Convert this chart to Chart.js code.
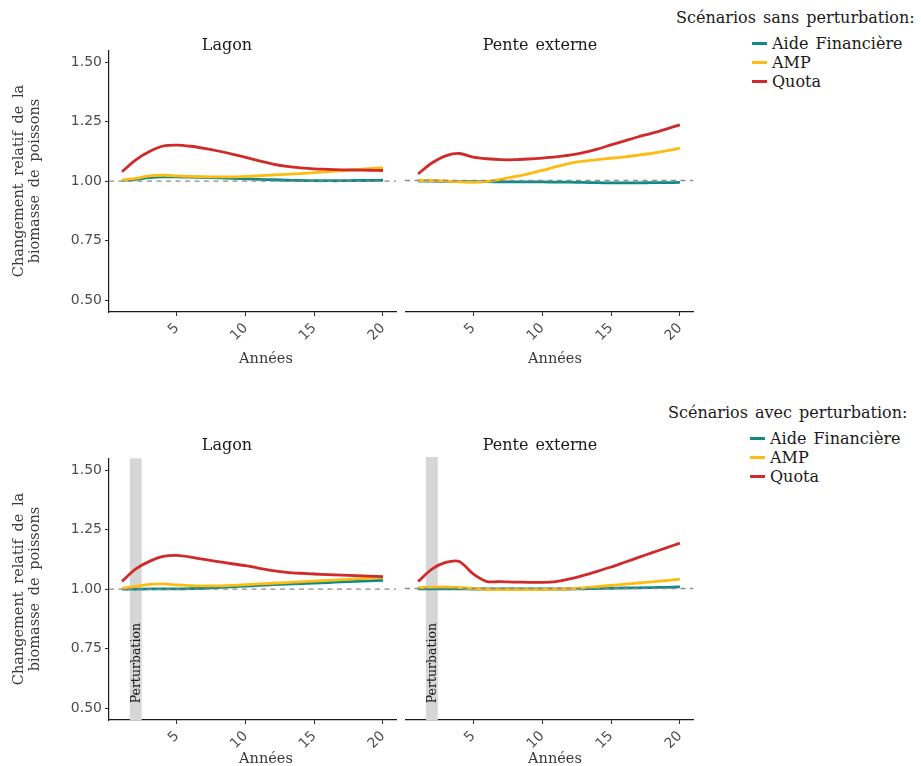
<!DOCTYPE html>
<html lang="fr">
<head>
<meta charset="utf-8">
<title>Changement relatif de la biomasse de poissons</title>
<script src="https://cdn.jsdelivr.net/npm/chart.js@4.4.1/dist/chart.umd.min.js"></script>
<style>
  html, body { margin: 0; padding: 0; background: #fff; }
  body { width: 921px; height: 766px; position: relative; overflow: hidden; font-family: "DejaVu Serif", serif; }
  .box { position: absolute; }
  .txt { position: absolute; white-space: nowrap; line-height: 1; color: #1a1a1a; }
  .ptitle { font-size: 16px; transform: translateX(-50%); }
  .xtitle { font-size: 14.5px; color: #3a3a3a; transform: translateX(-50%); }
  .ytitle { position: absolute; width: 300px; height: 34px; line-height: 16px; font-size: 14.5px;
            color: #3a3a3a; text-align: center; transform: rotate(-90deg); word-spacing: 3px; }
  .legtitle { font-size: 16px; }
  .legitem { font-size: 16px; }
  .key { position: absolute; width: 15px; height: 3px; }
</style>
</head>
<body>
<div id="root"></div>
<script>
// --- data ---
const YEARS = [1, 2, 3, 4, 5, 6, 7, 8, 9, 10, 11, 12, 13, 14, 15, 16, 17, 18, 19, 20];
const X_TICKS = [5, 10, 15, 20];
const Y_TICKS = [0.5, 0.75, 1.0, 1.25, 1.5];
const SERIES_NAMES = ['Aide Financière', 'AMP', 'Quota'];
const SERIES_COLORS = ['#0E8A89', '#FDBC0F', '#D02A2A'];
const REF_VALUE = 1.0;
const PERTURBATION_SPAN = [1.57, 2.43];

// sans perturbation
const LAGON_SANS_AIDE  = [1.003, 1.008, 1.015, 1.018, 1.018, 1.017, 1.016, 1.014, 1.012, 1.010, 1.008, 1.006, 1.004, 1.003, 1.002, 1.002, 1.002, 1.003, 1.003, 1.004];
const LAGON_SANS_AMP   = [1.005, 1.012, 1.022, 1.025, 1.022, 1.020, 1.019, 1.018, 1.018, 1.020, 1.023, 1.026, 1.029, 1.032, 1.036, 1.040, 1.044, 1.048, 1.053, 1.057];
const LAGON_SANS_QUOTA = [1.040, 1.090, 1.125, 1.148, 1.152, 1.147, 1.138, 1.127, 1.114, 1.100, 1.085, 1.072, 1.062, 1.056, 1.052, 1.050, 1.048, 1.047, 1.046, 1.045];
const PENTE_SANS_AIDE  = [0.998, 0.997, 0.996, 0.995, 0.995, 0.995, 0.994, 0.994, 0.994, 0.994, 0.993, 0.993, 0.992, 0.991, 0.990, 0.990, 0.990, 0.991, 0.991, 0.992];
const PENTE_SANS_AMP   = [1.000, 1.000, 0.998, 0.994, 0.992, 0.996, 1.005, 1.016, 1.028, 1.042, 1.058, 1.072, 1.081, 1.087, 1.093, 1.099, 1.106, 1.114, 1.124, 1.135];
const PENTE_SANS_QUOTA = [1.028, 1.073, 1.103, 1.113, 1.098, 1.091, 1.087, 1.087, 1.090, 1.094, 1.099, 1.106, 1.117, 1.131, 1.149, 1.166, 1.183, 1.198, 1.215, 1.233];

// avec perturbation
const LAGON_AVEC_AIDE  = [1.000, 1.000, 1.001, 1.001, 1.001, 1.002, 1.004, 1.007, 1.010, 1.013, 1.016, 1.019, 1.021, 1.024, 1.026, 1.028, 1.031, 1.033, 1.035, 1.037];
const LAGON_AVEC_AMP   = [1.003, 1.012, 1.020, 1.022, 1.018, 1.015, 1.014, 1.014, 1.016, 1.019, 1.022, 1.025, 1.028, 1.031, 1.034, 1.037, 1.040, 1.043, 1.046, 1.049];
const LAGON_AVEC_QUOTA = [1.033, 1.085, 1.117, 1.138, 1.142, 1.135, 1.125, 1.116, 1.107, 1.099, 1.088, 1.078, 1.071, 1.067, 1.064, 1.061, 1.059, 1.057, 1.055, 1.053];
const PENTE_AVEC_AIDE  = [0.999, 0.999, 0.999, 0.999, 0.998, 0.998, 0.998, 0.998, 0.998, 0.998, 0.998, 0.998, 0.999, 1.000, 1.001, 1.002, 1.003, 1.004, 1.005, 1.007];
const PENTE_AVEC_AMP   = [1.004, 1.006, 1.007, 1.004, 1.000, 0.996, 0.995, 0.995, 0.995, 0.996, 0.997, 0.999, 1.003, 1.008, 1.013, 1.018, 1.023, 1.028, 1.033, 1.039];
const PENTE_AVEC_QUOTA = [1.029, 1.081, 1.109, 1.113, 1.061, 1.029, 1.029, 1.027, 1.026, 1.026, 1.029, 1.040, 1.055, 1.072, 1.090, 1.110, 1.130, 1.150, 1.170, 1.190];

const TEXT = {
  lagon: 'Lagon', pente: 'Pente externe', annees: 'Années',
  ylab1: 'Changement relatif de la', ylab2: 'biomasse de poissons',
  legSans: 'Scénarios sans perturbation:', legAvec: 'Scénarios avec perturbation:',
  perturbation: 'Perturbation'
};

const root = document.getElementById('root');

function addText(cls, text, left, top, extra){
  const d = document.createElement('div');
  d.className = 'txt ' + cls;
  d.textContent = text;
  d.style.left = left + 'px';
  d.style.top = top + 'px';
  if(extra) Object.assign(d.style, extra);
  root.appendChild(d);
  return d;
}

// dashed reference line at y = 1, drawn above the series
const refLinePlugin = {
  id: 'refLine',
  afterDatasetsDraw(chart){
    const { ctx, chartArea, scales } = chart;
    const y = scales.y.getPixelForValue(REF_VALUE);
    ctx.save();
    ctx.strokeStyle = '#8a8a8a';
    ctx.lineWidth = 1.3;
    ctx.setLineDash([5, 4.5]);
    ctx.beginPath();
    ctx.moveTo(chartArea.left, y);
    ctx.lineTo(chartArea.right, y);
    ctx.stroke();
    ctx.restore();
  }
};

// grey band for the perturbation year
const bandPlugin = {
  id: 'band',
  beforeDatasetsDraw(chart, args, opts){
    if(!opts.show) return;
    const { ctx, chartArea, scales } = chart;
    const x0 = scales.x.getPixelForValue(PERTURBATION_SPAN[0]);
    const x1 = scales.x.getPixelForValue(PERTURBATION_SPAN[1]);
    ctx.save();
    ctx.fillStyle = '#D6D6D6';
    ctx.fillRect(x0, chartArea.top, x1 - x0, chartArea.bottom - chartArea.top);
    // label
    ctx.translate((x0 + x1) / 2 + 0.5, scales.y.getPixelForValue(0.52));
    ctx.rotate(-Math.PI / 2);
    ctx.fillStyle = '#1a1a1a';
    ctx.font = '12.5px "DejaVu Serif"';
    ctx.textAlign = 'left';
    ctx.textBaseline = 'middle';
    ctx.fillText(TEXT.perturbation, 0, 0);
    ctx.restore();
  }
};

function makePanel(left, top, width, series, showY, showBand){
  const box = document.createElement('div');
  box.className = 'box';
  box.style.left = left + 'px';
  box.style.top = top + 'px';
  box.style.width = width + 'px';
  box.style.height = '321px';
  const canvas = document.createElement('canvas');
  box.appendChild(canvas);
  root.appendChild(box);

  const axisGrid = { drawOnChartArea: false, drawTicks: true, tickLength: 4, color: '#333', tickColor: '#333', tickWidth: 1.1 };
  const axisBorder = { display: true, color: '#1a1a1a', width: 1.2 };
  const tickFont = { family: '"DejaVu Sans", sans-serif', size: 14 };

  return new Chart(canvas.getContext('2d'), {
    type: 'line',
    data: {
      datasets: series.map((vals, i) => ({
        label: SERIES_NAMES[i],
        data: YEARS.map((yr, k) => ({ x: yr, y: vals[k] })),
        borderColor: SERIES_COLORS[i],
        borderWidth: 2.8,
        pointRadius: 0,
        tension: 0.25,
        fill: false,
        order: 3 - i
      }))
    },
    options: {
      responsive: true,
      maintainAspectRatio: false,
      animation: false,
      layout: { padding: { top: 10, right: 4, left: 0, bottom: 0 } },
      plugins: { legend: { display: false }, tooltip: { enabled: false }, band: { show: showBand } },
      scales: {
        x: {
          type: 'linear', min: 0.05, max: 20.95,
          afterBuildTicks: s => { s.ticks = X_TICKS.map(v => ({ value: v })); },
          afterFit: s => { s.height = 48; },
          ticks: { minRotation: 45, maxRotation: 45, padding: 4, color: '#4d4d4d', font: tickFont, callback: v => String(v) },
          grid: axisGrid, border: axisBorder
        },
        y: {
          type: 'linear', min: 0.45, max: 1.55, display: showY,
          afterBuildTicks: s => { s.ticks = Y_TICKS.map(v => ({ value: v })); },
          afterFit: s => { s.width = showY ? 69 : 0; },
          ticks: { padding: 3, color: '#4d4d4d', font: tickFont, callback: v => Number(v).toFixed(2) },
          grid: axisGrid, border: axisBorder
        }
      }
    },
    plugins: [bandPlugin, refLinePlugin]
  });
}

// panels
makePanel(40, 39, 360, [LAGON_SANS_AIDE, LAGON_SANS_AMP, LAGON_SANS_QUOTA], true, false);
makePanel(405, 39, 292, [PENTE_SANS_AIDE, PENTE_SANS_AMP, PENTE_SANS_QUOTA], false, false);
makePanel(40, 447, 360, [LAGON_AVEC_AIDE, LAGON_AVEC_AMP, LAGON_AVEC_QUOTA], true, true);
makePanel(405, 447, 292, [PENTE_AVEC_AIDE, PENTE_AVEC_AMP, PENTE_AVEC_QUOTA], false, true);

// panel titles
[37, 437].forEach(t => {
  addText('ptitle', TEXT.lagon, 227, t);
  addText('ptitle', TEXT.pente, 540, t, { wordSpacing: '2px' });
});

// x axis titles
addText('xtitle', TEXT.annees, 266, 351);
addText('xtitle', TEXT.annees, 555, 351);
addText('xtitle', TEXT.annees, 266, 751);
addText('xtitle', TEXT.annees, 555, 751);

// y axis titles
[181, 589].forEach(cy => {
  const d = document.createElement('div');
  d.className = 'ytitle';
  d.style.left = (27 - 150) + 'px';
  d.style.top = (cy - 17) + 'px';
  d.innerHTML = TEXT.ylab1 + '<br>' + TEXT.ylab2;
  root.appendChild(d);
});

// legends
function legend(title, titleLeft, baseTop, keyLeft){
  addText('legtitle', title, titleLeft, baseTop, { wordSpacing: '2px' });
  SERIES_NAMES.forEach((name, i) => {
    const y = baseTop + 26 + i * 19.2;
    const k = document.createElement('div');
    k.className = 'key';
    k.style.left = keyLeft + 'px';
    k.style.top = (y + 6) + 'px';
    k.style.background = SERIES_COLORS[i];
    root.appendChild(k);
    addText('legitem', name, keyLeft + 20, y, { wordSpacing: '2px' });
  });
}
legend(TEXT.legSans, 676, 10, 752);
legend(TEXT.legAvec, 668, 405, 750);
</script>
</body>
</html>
